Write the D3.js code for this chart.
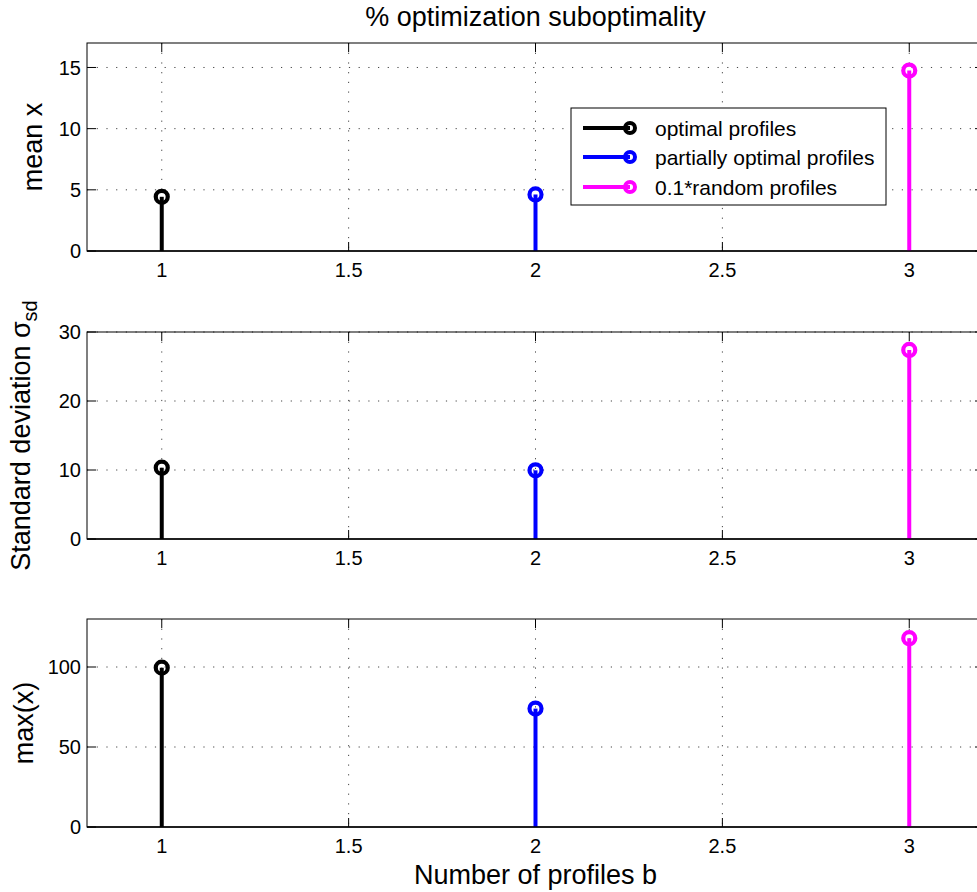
<!DOCTYPE html>
<html>
<head>
<meta charset="utf-8">
<script src="https://cdn.jsdelivr.net/npm/d3@7"></script>
<style>
html,body{margin:0;padding:0;background:#fff;overflow:hidden;}
svg{display:block;font-family:"Liberation Sans",Arial,Helvetica,sans-serif;}
</style>
</head>
<body>
<svg id="chart" width="977" height="892"></svg>
<script>
// ---- data ----
const categories = [1, 2, 3];
const seriesNames = ["optimal profiles", "partially optimal profiles", "0.1*random profiles"];
const seriesColors = ["#000000", "#0000ff", "#ff00ff"];
const meanX = [4.43, 4.62, 14.75];
const stdDev = [10.33, 9.95, 27.4];
const maxX = [99.6, 74, 118];
const xTicks = [1, 1.5, 2, 2.5, 3];
const xTickLabels = ["1", "1.5", "2", "2.5", "3"];
const meanTicks = [0, 5, 10, 15];
const stdTicks = [0, 10, 20, 30];
const maxTicks = [0, 50, 100];
const titleText = "% optimization suboptimality";
const xLabelText = "Number of profiles b";

const svg = d3.select("#chart");
const x = d3.scaleLinear().domain([0.8, 3.2]).range([87, 984]);

const panels = [
  {values: meanX, ticks: meanTicks, domain: [0, 17], top: 43, bottom: 251, label: "mean x", labelX: 42},
  {values: stdDev, ticks: stdTicks, domain: [0, 30], top: 332, bottom: 539, label: "sigma", labelX: 30},
  {values: maxX, ticks: maxTicks, domain: [0, 130], top: 619, bottom: 827, label: "max(x)", labelX: 33}
];

panels.forEach((p, pi) => {
  const y = d3.scaleLinear().domain(p.domain).range([p.bottom, p.top]);
  const g = svg.append("g");
  // grid
  g.selectAll(".vg").data(xTicks).enter().append("line")
    .attr("x1", d => x(d)).attr("x2", d => x(d))
    .attr("y1", p.top).attr("y2", p.bottom)
    .attr("stroke", "#444").attr("stroke-width", 1)
    .attr("stroke-dasharray", "1.2,8.5");
  g.selectAll(".hg").data(p.ticks.filter(t => t !== 0)).enter().append("line")
    .attr("x1", x.range()[0]).attr("x2", x.range()[1])
    .attr("y1", d => y(d)).attr("y2", d => y(d))
    .attr("stroke", "#444").attr("stroke-width", 1)
    .attr("stroke-dasharray", "1.2,8.5");
  // box
  g.append("rect").attr("x", x.range()[0]).attr("y", p.top)
    .attr("width", x.range()[1] - x.range()[0]).attr("height", p.bottom - p.top)
    .attr("fill", "none").attr("stroke", "#000").attr("stroke-width", 1);
  // ticks (inward)
  const tl = 9;
  xTicks.forEach(t => {
    g.append("line").attr("x1", x(t)).attr("x2", x(t)).attr("y1", p.bottom).attr("y2", p.bottom - tl).attr("stroke", "#000");
    g.append("line").attr("x1", x(t)).attr("x2", x(t)).attr("y1", p.top).attr("y2", p.top + tl).attr("stroke", "#000");
  });
  p.ticks.forEach(t => {
    g.append("line").attr("x1", x.range()[0]).attr("x2", x.range()[0] + tl).attr("y1", y(t)).attr("y2", y(t)).attr("stroke", "#000");
    g.append("line").attr("x1", x.range()[1]).attr("x2", x.range()[1] - tl).attr("y1", y(t)).attr("y2", y(t)).attr("stroke", "#000");
  });
  // tick labels
  g.selectAll(".xl").data(xTicks).enter().append("text")
    .attr("x", d => x(d)).attr("y", p.bottom + 26)
    .attr("text-anchor", "middle").attr("font-size", 20).attr("fill", "#000")
    .text((d, i) => xTickLabels[i]);
  g.selectAll(".yl").data(p.ticks).enter().append("text")
    .attr("x", 81).attr("y", d => y(d)).attr("dy", "0.36em")
    .attr("text-anchor", "end").attr("font-size", 20).attr("fill", "#000")
    .text(d => d);
  // stems
  const cy = (p.top + p.bottom) / 2;
  g.selectAll(".stem").data(p.values).enter().append("line")
    .attr("x1", (d, i) => x(categories[i])).attr("x2", (d, i) => x(categories[i]))
    .attr("y1", y(0)).attr("y2", d => y(d))
    .attr("stroke", (d, i) => seriesColors[i]).attr("stroke-width", 4);
  g.selectAll(".mk").data(p.values).enter().append("circle")
    .attr("cx", (d, i) => x(categories[i])).attr("cy", d => y(d)).attr("r", 6)
    .attr("fill", "none").attr("stroke", (d, i) => seriesColors[i]).attr("stroke-width", 4.2);
  // baseline
  g.append("line").attr("x1", x.range()[0]).attr("x2", x.range()[1]).attr("y1", y(0)).attr("y2", y(0))
    .attr("stroke", "#000").attr("stroke-width", 1.5);
  // y label
  const t = g.append("text").attr("transform", `translate(${p.labelX},${cy}) rotate(-90)`)
    .attr("text-anchor", "middle").attr("font-size", 27).attr("fill", "#000");
  if (p.label === "sigma") {
    t.append("tspan").text("Standard deviation \u03c3");
    t.append("tspan").attr("font-size", 20).attr("dy", 7).text("sd");
  } else {
    t.text(p.label);
  }
});

// title and x label
svg.append("text").attr("x", 535.5).attr("y", 26).attr("text-anchor", "middle")
  .attr("font-size", 27).attr("fill", "#000").text(titleText);
svg.append("text").attr("x", 535.5).attr("y", 884).attr("text-anchor", "middle")
  .attr("font-size", 27).attr("fill", "#000").text(xLabelText);

// legend
const lg = svg.append("g");
lg.append("rect").attr("x", 571).attr("y", 108).attr("width", 315).attr("height", 97)
  .attr("fill", "#fff").attr("stroke", "#000").attr("stroke-width", 1);
const rowY = [128, 157, 187];
seriesNames.forEach((name, i) => {
  lg.append("line").attr("x1", 583).attr("x2", 630).attr("y1", rowY[i]).attr("y2", rowY[i])
    .attr("stroke", seriesColors[i]).attr("stroke-width", 4);
  lg.append("circle").attr("cx", 630).attr("cy", rowY[i]).attr("r", 5)
    .attr("fill", "none").attr("stroke", seriesColors[i]).attr("stroke-width", 4);
  lg.append("text").attr("x", 655).attr("y", rowY[i]).attr("dy", "0.36em")
    .attr("font-size", 21).attr("fill", "#000").text(name);
});
</script>
</body>
</html>
